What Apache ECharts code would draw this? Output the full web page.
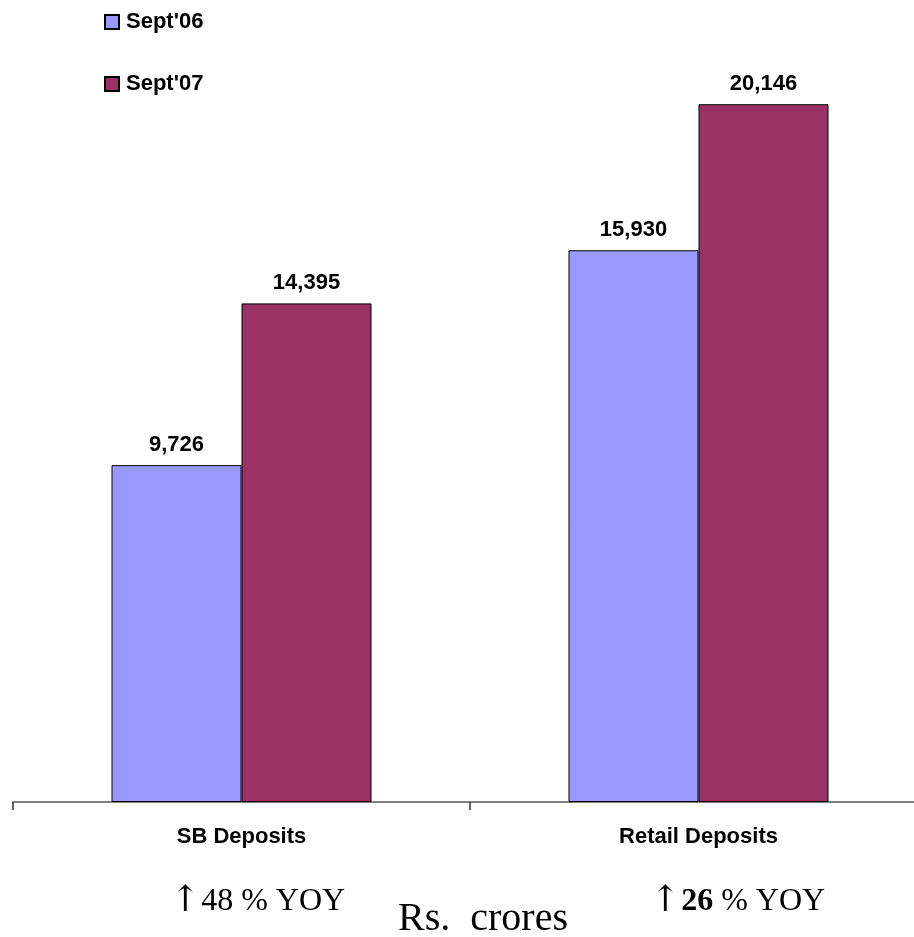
<!DOCTYPE html>
<html>
<head>
<meta charset="utf-8">
<script src="https://cdn.jsdelivr.net/npm/echarts@6/dist/echarts.min.js"></script>
<style>
  html, body { margin: 0; padding: 0; background: #ffffff; }
  #chart { width: 914px; height: 937px; }
</style>
</head>
<body>
<div id="chart"></div>
<script>
const categories = ['SB Deposits', 'Retail Deposits'];
const seriesNames = ["Sept'06", "Sept'07"];
const sept06Values = [9726, 15930];
const sept07Values = [14395, 20146];
const yoyGrowth = ['48', '26'];
const unitLabel = 'Rs.  crores';

const SANS = "'Liberation Sans', Arial, sans-serif";
const SERIF = "'Liberation Serif', 'Times New Roman', serif";

const chart = echarts.init(document.getElementById('chart'), null, { renderer: 'canvas' });

const labelStyle = {
  show: true,
  position: 'top',
  distance: 9,
  color: '#000',
  fontFamily: SANS,
  fontWeight: 'bold',
  fontSize: 22,
  formatter: p => p.value.toLocaleString('en-US')
};

const yoyRich = (bold) => ({
  a: { fontFamily: "'DejaVu Serif', serif", fontSize: 36, color: '#000', padding: [0, 1, -2, 0], verticalAlign: 'bottom' },
  n: { fontFamily: SERIF, fontSize: 32, fontWeight: bold ? 'bold' : 'normal', color: '#000', verticalAlign: 'bottom' },
  t: { fontFamily: SERIF, fontSize: 32, color: '#000', verticalAlign: 'bottom' }
});

chart.setOption({
  animation: false,
  backgroundColor: '#ffffff',
  legend: {
    orient: 'vertical',
    left: 104,
    top: 11,
    padding: 0,
    itemWidth: 14,
    itemHeight: 14,
    itemGap: 40,
    icon: 'rect',
    textStyle: { fontFamily: SANS, fontWeight: 'bold', fontSize: 22, color: '#000', padding: [0, 0, 0, 2] },
    data: seriesNames
  },
  grid: { left: 13, right: -13, top: 40, bottom: 135, containLabel: false, outerBoundsMode: 'none' },
  xAxis: {
    type: 'category',
    data: categories,
    axisLine: { show: true, lineStyle: { color: '#808080', width: 2 } },
    axisTick: { show: true, length: 8, lineStyle: { color: '#333', width: 1.5 } },
    axisLabel: {
      margin: 24,
      color: '#000',
      fontFamily: SANS,
      fontWeight: 'bold',
      fontSize: 22
    }
  },
  yAxis: {
    type: 'value',
    min: 0,
    max: 22000,
    show: false,
    splitLine: { show: false }
  },
  series: [
    {
      name: seriesNames[0],
      type: 'bar',
      data: sept06Values,
      barWidth: 130,
      barGap: '0%',
      itemStyle: { color: '#9999FF', borderColor: '#000', borderWidth: 1 },
      label: labelStyle
    },
    {
      name: seriesNames[1],
      type: 'bar',
      data: sept07Values,
      barWidth: 130,
      barGap: '0%',
      itemStyle: { color: '#993366', borderColor: '#000', borderWidth: 1 },
      label: labelStyle
    }
  ],
  graphic: [
    {
      type: 'text',
      left: 170,
      top: 884,
      style: {
        text: '{a|↑}{n|' + yoyGrowth[0] + '}{t| % YOY}',
        rich: yoyRich(false)
      }
    },
    {
      type: 'text',
      left: 650,
      top: 884,
      style: {
        text: '{a|↑}{n|' + yoyGrowth[1] + '}{t| % YOY}',
        rich: yoyRich(true)
      }
    },
    {
      type: 'text',
      left: 398,
      top: 899,
      style: {
        text: unitLabel,
        fontFamily: SERIF,
        fontSize: 40,
        fill: '#000'
      }
    }
  ]
});
</script>
</body>
</html>
